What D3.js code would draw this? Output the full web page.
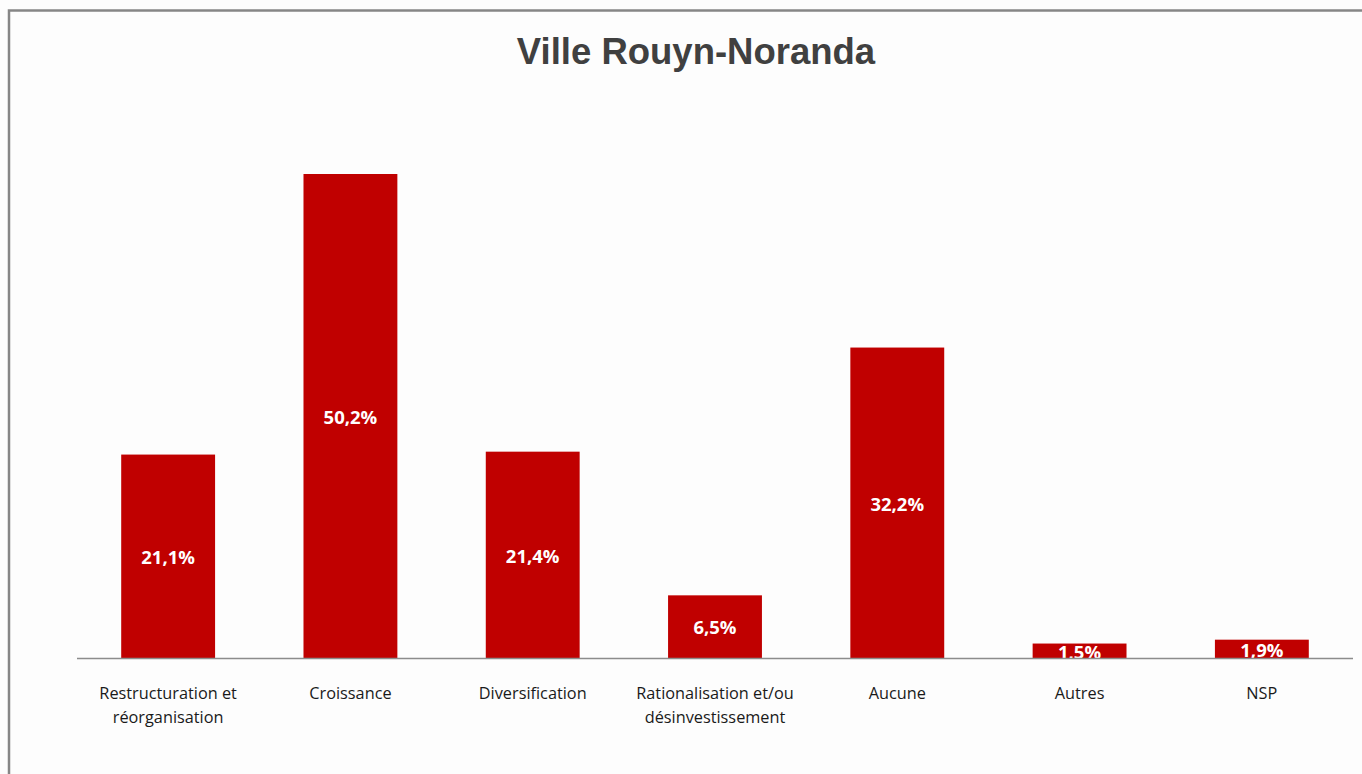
<!DOCTYPE html>
<html>
<head>
<meta charset="utf-8">
<script src="https://cdn.jsdelivr.net/npm/d3@7"></script>
<style>
  html, body { margin: 0; padding: 0; background: #fdfdfd; }
  svg { display: block; }
</style>
</head>
<body>
<svg id="chart" width="1362" height="774"></svg>
<script>
// Strategic orientation shares, Ville Rouyn-Noranda
const categories = [
  ["Restructuration et", "réorganisation"],
  ["Croissance"],
  ["Diversification"],
  ["Rationalisation et/ou", "désinvestissement"],
  ["Aucune"],
  ["Autres"],
  ["NSP"]
];
const values = [21.1, 50.2, 21.4, 6.5, 32.2, 1.5, 1.9];
const valueLabels = ["21,1%", "50,2%", "21,4%", "6,5%", "32,2%", "1,5%", "1,9%"];
const title = "Ville Rouyn-Noranda";

const svg = d3.select("#chart");
const W = 1362, H = 774;

// Frame
svg.append("rect").attr("x", 0).attr("y", 0).attr("width", W).attr("height", H).attr("fill", "#fdfdfd");
svg.append("path")
  .attr("d", `M9,${H} V10.5 H${W}`)
  .attr("fill", "none").attr("stroke", "#868686").attr("stroke-width", 2.5);

const plot = { left: 77, right: 1353, top: 110, bottom: 658 };

const x = d3.scaleBand()
  .domain(d3.range(values.length))
  .range([plot.left, plot.right])
  .paddingInner(0.485)
  .paddingOuter(0.2425);

const y = d3.scaleLinear()
  .domain([0, 50.2])
  .range([plot.bottom, 174]);

svg.append("text")
  .attr("x", 696).attr("y", 64)
  .attr("text-anchor", "middle")
  .attr("font-family", "Liberation Sans, Arial, sans-serif")
  .attr("font-weight", "bold")
  .attr("font-size", 36.5)
  .attr("fill", "#404040")
  .text(title);

const g = svg.append("g");

g.selectAll("rect.bar")
  .data(values)
  .join("rect")
  .attr("class", "bar")
  .attr("x", (d, i) => x(i))
  .attr("y", d => y(d))
  .attr("width", x.bandwidth())
  .attr("height", d => y(0) - y(d))
  .attr("fill", "#c00000");

g.selectAll("text.val")
  .data(values)
  .join("text")
  .attr("class", "val")
  .attr("x", (d, i) => x(i) + x.bandwidth() / 2)
  .attr("y", d => (y(d) + y(0)) / 2)
  .attr("dy", "0.42em")
  .attr("text-anchor", "middle")
  .attr("font-family", "Open Sans, sans-serif")
  .attr("font-weight", "bold")
  .attr("font-size", 18.5)
  .attr("fill", "#ffffff")
  .text((d, i) => valueLabels[i]);

// Category axis line
svg.append("line")
  .attr("x1", plot.left).attr("x2", plot.right)
  .attr("y1", plot.bottom + 0.5).attr("y2", plot.bottom + 0.5)
  .attr("stroke", "#8c8c8c").attr("stroke-width", 1.5);

const cat = svg.append("g")
  .selectAll("text.cat")
  .data(categories)
  .join("text")
  .attr("class", "cat")
  .attr("x", (d, i) => x(i) + x.bandwidth() / 2)
  .attr("y", 699)
  .attr("text-anchor", "middle")
  .attr("font-family", "Open Sans, sans-serif")
  .attr("font-size", 16.3)
  .attr("fill", "#1a1a1a");

cat.selectAll("tspan")
  .data(d => d)
  .join("tspan")
  .attr("x", function () { return d3.select(this.parentNode).attr("x"); })
  .attr("dy", (d, j) => j === 0 ? 0 : 24)
  .text(d => d);
</script>
</body>
</html>
